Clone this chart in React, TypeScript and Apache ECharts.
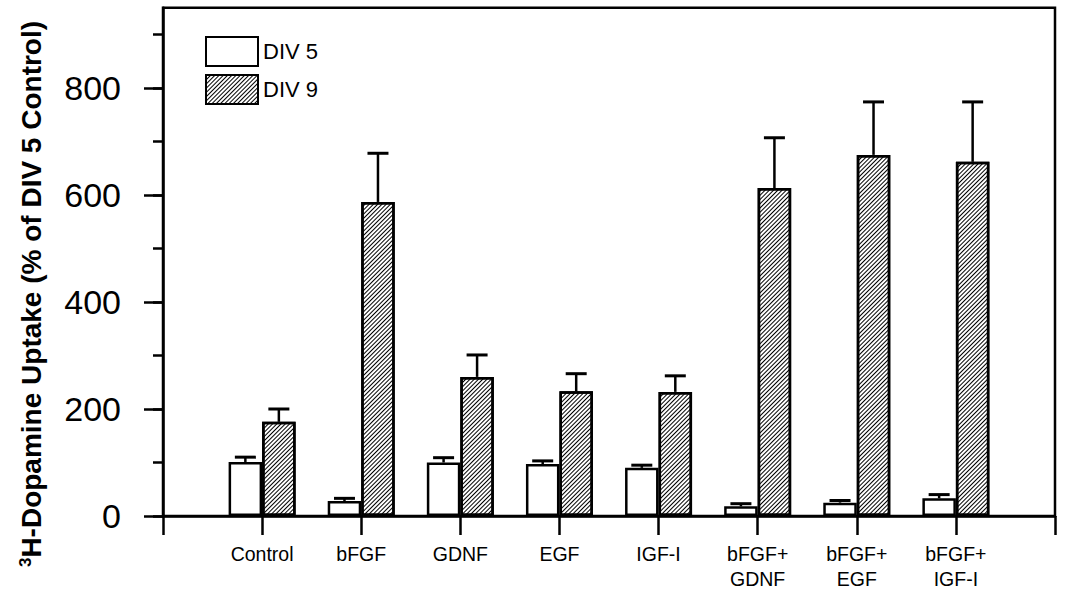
import React, { useEffect, useRef } from 'react';
import * as echarts from 'echarts';

// ---- data ----
const categories = ['', 'Control', 'bFGF', 'GDNF', 'EGF', 'IGF-I', 'bFGF+\nGDNF', 'bFGF+\nEGF', 'bFGF+\nIGF-I', ''];
const div5Values = [null, 101, 28, 100, 97, 90, 18, 25, 33, null];
const div5Errors = [null, 9, 5, 9, 6, 5, 5, 4, 7, null];
const div9Values = [null, 176, 587, 260, 233, 232, 613, 675, 662, null];
const div9Errors = [null, 24, 91, 41, 33, 30, 94, 99, 112, null];
const seriesNames = ['DIV 5', 'DIV 9'];
const yMax = 950;
const yMajorMax = 800;
const yMajorStep = 200;
const yMinorMax = 900;
const yMinorStep = 100;
const yTitle = '{s|3}H-Dopamine Uptake (% of DIV 5 Control)';

// ---- layout ----
const FONT = "'Liberation Sans', Arial, Helvetica, sans-serif";
const LEFT = 163;
const RIGHT = 23;
const ZERO_Y = 516;
const BOTTOM = 597 - ZERO_Y;
const PX_PER_UNIT = 0.535;
const topFor = (v: number) => ZERO_Y - v * PX_PER_UNIT;
const BAR_W = 33.5;
const CAP = 21;
const LW = 2.5;

function errData(vals: (number | null)[], errs: (number | null)[]) {
  const out: number[][] = [];
  vals.forEach((v, i) => {
    if (v != null && errs[i] != null) out.push([i, v, errs[i] as number]);
  });
  return out;
}

function errorSeries(name: string, vals: (number | null)[], errs: (number | null)[], offset: number) {
  return {
    type: 'custom',
    name: name + ' err',
    xAxisIndex: 0,
    yAxisIndex: 0,
    z: 5,
    silent: true,
    data: errData(vals, errs),
    renderItem: (params: any, api: any) => {
      const xi = api.value(0);
      const v = api.value(1);
      const e = api.value(2);
      const base = api.coord([xi, v]);
      const top = api.coord([xi, v + e]);
      const cx = base[0] + offset;
      return {
        type: 'group',
        children: [
          { type: 'line', shape: { x1: cx, y1: base[1], x2: cx, y2: top[1] }, style: { stroke: '#000', lineWidth: LW } },
          { type: 'line', shape: { x1: cx - CAP / 2, y1: top[1], x2: cx + CAP / 2, y2: top[1] }, style: { stroke: '#000', lineWidth: 3 } },
        ],
      };
    },
  };
}

export default function App() {
  const ref = useRef<HTMLDivElement>(null);
  useEffect(() => {
    if (!ref.current) return;
    const chart = echarts.init(ref.current, undefined, { renderer: 'svg' });
    const hatch = {
      symbol: 'rect',
      symbolSize: 1,
      color: '#000',
      dashArrayX: [1, 0],
      dashArrayY: [1, 1.9],
      rotation: -Math.PI / 4,
    };
    chart.setOption({
      animation: false,
      backgroundColor: '#fff',
      textStyle: { fontFamily: FONT },
      legend: {
        data: seriesNames,
        orient: 'vertical',
        left: 200,
        top: 31,
        itemWidth: 52,
        itemHeight: 29,
        itemGap: 7,
        icon: 'rect',
        textStyle: { fontSize: 22, color: '#000', fontFamily: FONT },
      },
      grid: [
        { left: LEFT, right: RIGHT, top: topFor(yMax), bottom: BOTTOM, show: true, borderColor: '#000', borderWidth: LW, backgroundColor: 'transparent' },
        { left: LEFT, right: RIGHT, top: topFor(yMajorMax), bottom: BOTTOM, show: false },
        { left: LEFT, right: RIGHT, top: topFor(yMinorMax), bottom: BOTTOM, show: false },
      ],
      xAxis: [
        {
          type: 'category',
          gridIndex: 0,
          data: categories,
          boundaryGap: false,
          axisLine: { lineStyle: { color: '#000', width: LW } },
          axisTick: { show: true, interval: 0, length: 19, lineStyle: { color: '#000', width: LW } },
          axisLabel: { interval: 0, margin: 25, fontSize: 19.5, lineHeight: 25, color: '#000', fontFamily: FONT },
          splitLine: { show: false },
        },
        { type: 'value', gridIndex: 1, show: false },
        { type: 'value', gridIndex: 2, show: false },
      ],
      yAxis: [
        {
          type: 'value',
          gridIndex: 0,
          min: 0,
          max: yMax,
          axisLine: { show: true, lineStyle: { color: '#000', width: LW } },
          axisTick: { show: false },
          axisLabel: { show: false },
          splitLine: { show: false },
        },
        {
          type: 'value',
          gridIndex: 1,
          min: 0,
          max: yMajorMax,
          interval: yMajorStep,
          axisLine: { show: false },
          axisTick: { show: true, length: 19, lineStyle: { color: '#000', width: LW } },
          axisLabel: { margin: 42, fontSize: 34, color: '#000', fontFamily: FONT },
          splitLine: { show: false },
        },
        {
          type: 'value',
          gridIndex: 2,
          min: 0,
          max: yMinorMax,
          interval: yMinorStep,
          axisLine: { show: false },
          axisTick: { show: true, length: 10, lineStyle: { color: '#000', width: LW } },
          axisLabel: { show: false },
          splitLine: { show: false },
        },
      ],
      graphic: [
        {
          type: 'text',
          x: 31,
          y: 294,
          rotation: Math.PI / 2,
          style: {
            text: yTitle,
            fontFamily: FONT,
            fontSize: 28,
            fontWeight: 'bold',
            fill: '#000',
            align: 'center',
            verticalAlign: 'middle',
            rich: {
              s: { fontSize: 17, fontWeight: 'bold', fontFamily: FONT, verticalAlign: 'top', padding: [0, 0, 10, 0] },
            },
          },
        },
      ],
      series: [
        {
          type: 'bar',
          name: seriesNames[0],
          xAxisIndex: 0,
          yAxisIndex: 0,
          data: div5Values,
          barWidth: BAR_W,
          barGap: '0%',
          itemStyle: { color: '#fff', borderColor: '#000', borderWidth: LW },
        },
        {
          type: 'bar',
          name: seriesNames[1],
          xAxisIndex: 0,
          yAxisIndex: 0,
          data: div9Values,
          barWidth: BAR_W,
          barGap: '0%',
          itemStyle: { color: '#fff', borderColor: '#000', borderWidth: LW, decal: hatch },
        },
        errorSeries(seriesNames[0], div5Values, div5Errors, -BAR_W / 2),
        errorSeries(seriesNames[1], div9Values, div9Errors, BAR_W / 2),
      ],
    });
    return () => chart.dispose();
  }, []);
  return <div ref={ref} style={{ position: 'fixed', left: 0, top: 0, width: 1078, height: 597 }} />;
}
